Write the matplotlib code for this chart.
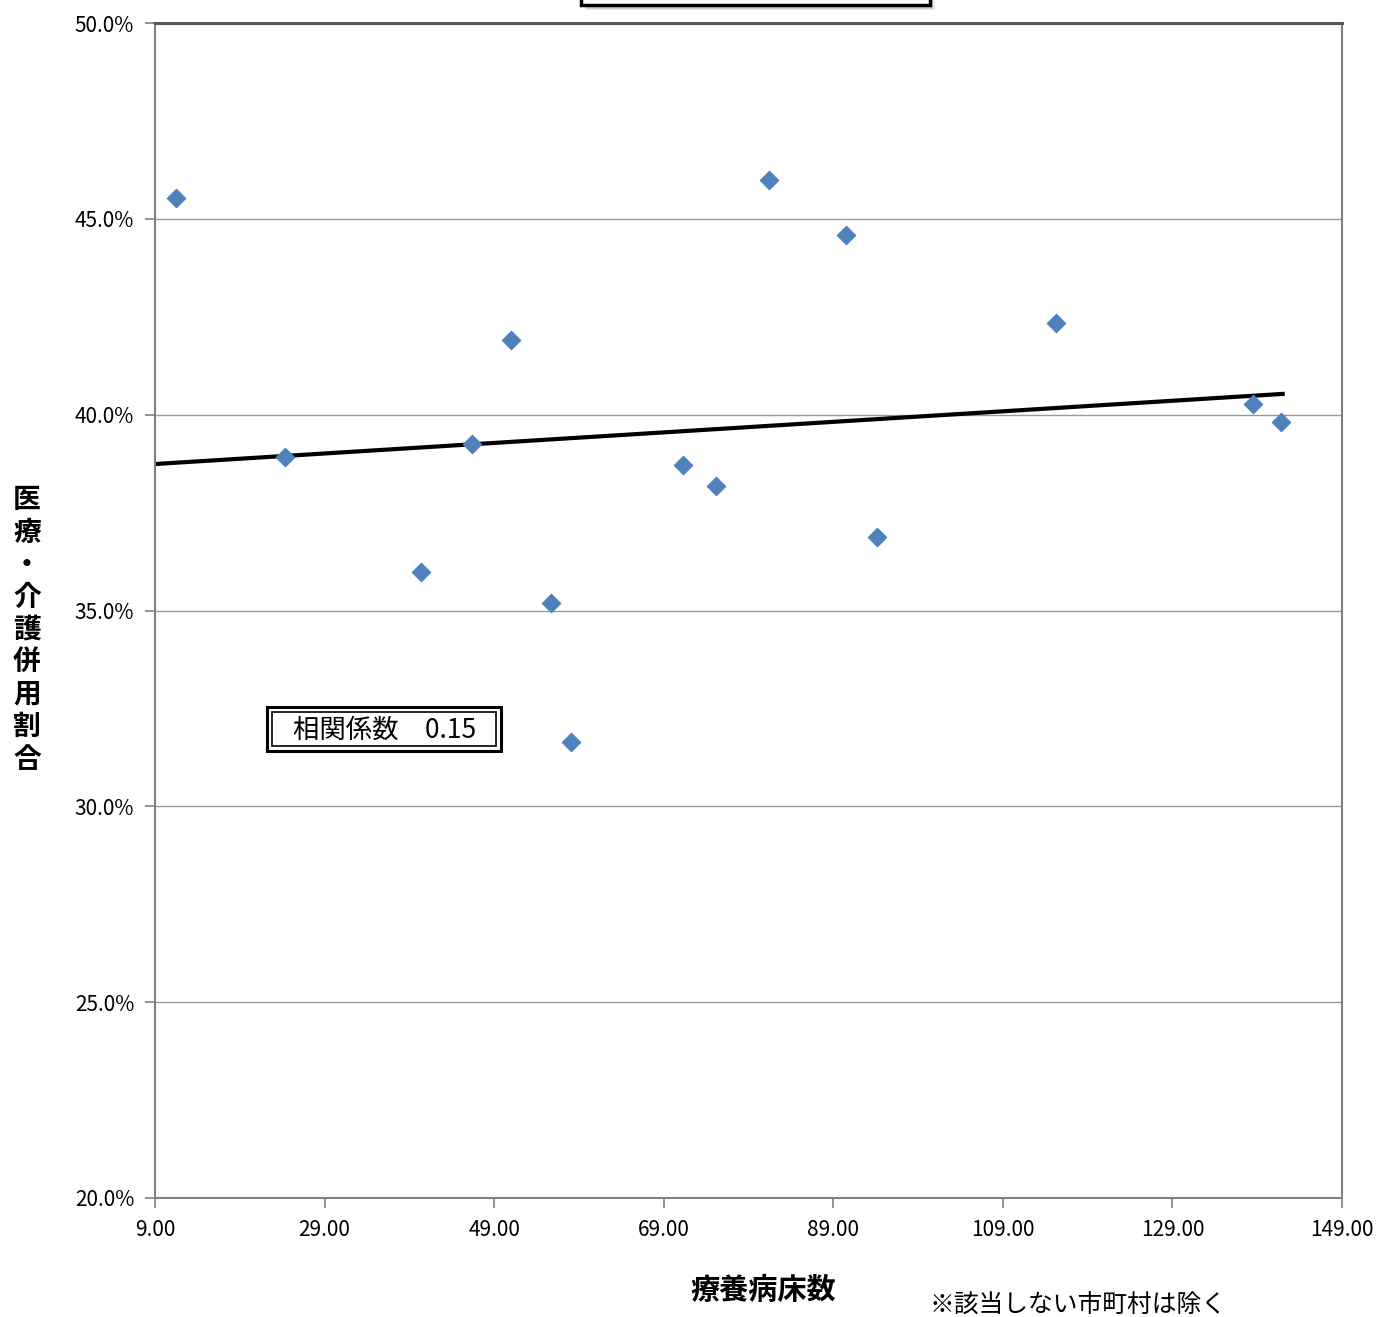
import matplotlib.pyplot as plt
from matplotlib.patches import Rectangle
from matplotlib.ticker import FuncFormatter

plt.rcParams['font.family'] = ['Noto Sans CJK JP', 'DejaVu Sans']

# 療養病床数 / 医療・介護併用割合 (%)
beds = [11.5, 24.3, 40.4, 46.4, 51.0, 55.7, 58.1, 71.3, 75.2,
        81.4, 90.5, 94.2, 115.3, 138.5, 141.8]
ratio = [45.53, 38.92, 35.98, 39.25, 41.91, 35.19, 31.64, 38.72, 38.18,
         45.99, 44.59, 36.88, 42.34, 40.27, 39.81]
# trend line
trend_x = [9.0, 142.0]
trend_y = [38.74, 40.53]
corr_label = "相関係数　0.15"
x_ticks = [9, 29, 49, 69, 89, 109, 129, 149]
y_ticks = [20, 25, 30, 35, 40, 45, 50]

W, H = 1378, 1317
fig = plt.figure(figsize=(W / 100, H / 100), dpi=100)
ax = fig.add_axes([155 / W, 1 - 1198 / H, (1342 - 155) / W, (1198 - 23) / H])

ax.scatter(beds, ratio, marker='D', s=85, color='#4F81BD',
           edgecolors='#4F81BD', zorder=3)
ax.plot(trend_x, trend_y, color='black', lw=3, zorder=2)

ax.set_xlim(9, 149)
ax.set_ylim(20, 50)
ax.set_xticks(x_ticks)
ax.set_yticks(y_ticks)
ax.xaxis.set_major_formatter(FuncFormatter(lambda v, p: f"{v:.2f}"))
ax.yaxis.set_major_formatter(FuncFormatter(lambda v, p: f"{v:.1f}%"))
ax.tick_params(labelsize=15, labelcolor='black', color='#808080',
               length=7, width=1.2)
ax.tick_params(axis='y', pad=8)
ax.tick_params(axis='x', pad=8)
ax.yaxis.grid(True, color='#999999', lw=1)
ax.set_axisbelow(True)
for side in ['left', 'bottom', 'right']:
    ax.spines[side].set_color('#808080')
    ax.spines[side].set_linewidth(1.5)
ax.spines['top'].set_color('#555555')
ax.spines['top'].set_linewidth(2.2)

# y label (vertical stacked)
fig.text(27 / W, 1 - 630 / H, "\n".join("医療・介護併用割合"), ha='center',
         va='center', fontsize=20, fontweight='bold', linespacing=1.2)

# x label and note
fig.text(763 / W, 1 - 1290 / H, "療養病床数", ha='center', va='center',
         fontsize=21, fontweight='bold')
fig.text(930 / W, 1 - 1306 / H, "※該当しない市町村は除く", ha='left',
         va='center', fontsize=17.8)

# correlation box (double border)
fig.patches.append(Rectangle((267 / W, 1 - 751 / H), 234 / W, 44 / H,
                             transform=fig.transFigure, fill=True, fc='white',
                             ec='black', lw=2.2, zorder=5))
fig.patches.append(Rectangle((272 / W, 1 - 746 / H), 224 / W, 34 / H,
                             transform=fig.transFigure, fill=False,
                             ec='black', lw=1.2, zorder=6))
fig.text(385 / W, 1 - 730 / H, corr_label, ha='center', va='center',
         fontsize=19, zorder=7)

# title box cut at top edge, with shadow
for i, a in enumerate([0.08, 0.12, 0.18]):
    off = 5 - i * 1.5
    fig.patches.append(Rectangle(((581 + off) / W, 1 - (5 + off) / H),
                                 349 / W, 40 / H, transform=fig.transFigure,
                                 fc='black', ec='none', alpha=a, zorder=4))
fig.patches.append(Rectangle((581 / W, 1 - 5 / H), 349 / W, 40 / H,
                             transform=fig.transFigure, fc='white',
                             ec='black', lw=2.5, zorder=5))

fig.savefig("out.png", dpi=100)
